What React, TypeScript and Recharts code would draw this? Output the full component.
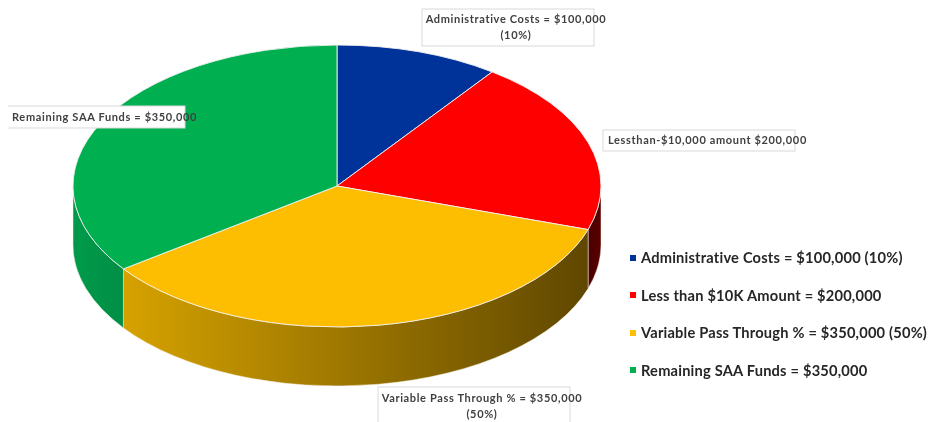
import React from 'react';
import { PieChart, Pie, Legend } from 'recharts';

const categories = ['Administrative Costs', 'Less than $10K Amount', 'Variable Pass Through %', 'Remaining SAA Funds'];
const amounts = [100000, 200000, 350000, 350000];
const colors = ['#003399', '#ff0000', '#fdbd00', '#00b050'];
const legendLabels = [
  'Administrative Costs = $100,000 (10%)',
  'Less than $10K Amount = $200,000',
  'Variable Pass Through % = $350,000 (50%)',
  'Remaining SAA Funds = $350,000',
];
const calloutLines = [
  ['Administrative Costs = $100,000', '(10%)'],
  ['Lessthan-$10,000 amount $200,000'],
  ['Variable Pass Through % = $350,000', '(50%)'],
  ['Remaining SAA Funds = $350,000'],
];
const data = categories.map((name, i) => ({ name, value: amounts[i], fill: colors[i] }));

const CX = 337;
const CY = 186;
const RX = 264;
const RY = 141;
const DEPTH = 59;
const FONT = 'Lato, "Open Sans", sans-serif';
const SOFT = 'blur(0.45px)';

const boxes = [
  { x: 422, y: 9, w: 172, h: 37, tx: 516, ty: 23, align: 'middle' },
  { x: 603, y: 130, w: 192, h: 21, tx: 608, ty: 144, align: 'start' },
  { x: 378, y: 387, w: 192, h: 40, tx: 482, ty: 402, align: 'middle' },
  { x: 7, y: 106, w: 178, h: 22, tx: 12, ty: 121, align: 'start' },
];

const sideStops = [
  ['#001f5c', '#001f5c'],
  ['#4a0000', '#5a0000'],
  ['#d6a200', '#5f4700'],
  ['#009a4a', '#008f45'],
];

const pt = (a: number) => {
  const r = (a * Math.PI) / 180;
  return [CX + RX * Math.sin(r), CY - RY * Math.cos(r)];
};

function Slice(props: any) {
  const { startAngle, endAngle, fill, index, name } = props;
  const i = index ?? categories.indexOf(name);
  const a0 = 90 - startAngle;
  const a1 = 90 - endAngle;
  const [x0, y0] = pt(a0);
  const [x1, y1] = pt(a1);
  const large = a1 - a0 > 180 ? 1 : 0;
  const top = `M${CX},${CY} L${x0},${y0} A${RX},${RY} 0 ${large} 1 ${x1},${y1} Z`;
  const s0 = Math.max(a0, 90);
  const s1 = Math.min(a1, 270);
  let side = null;
  if (s1 > s0) {
    const [p0x, p0y] = pt(s0);
    const [p1x, p1y] = pt(s1);
    const d = `M${p0x},${p0y} A${RX},${RY} 0 0 1 ${p1x},${p1y} L${p1x},${p1y + DEPTH} A${RX},${RY} 0 0 0 ${p0x},${p0y + DEPTH} Z`;
    side = (
      <>
        <defs>
          <linearGradient id={`side-${i}`} x1="0" y1="0" x2="1" y2="0">
            <stop offset="0" stopColor={sideStops[i][0]} />
            <stop offset="1" stopColor={sideStops[i][1]} />
          </linearGradient>
        </defs>
        <path d={d} fill={`url(#side-${i})`} stroke="#f3efe2" strokeWidth={0.5} />
      </>
    );
  }
  return (
    <g>
      {side}
      <path d={top} fill={fill} stroke="#f2f2f2" strokeWidth={0.9} />
    </g>
  );
}

function Callout(props: any) {
  const i = props.index;
  const b = boxes[i];
  return (
    <g>
      <rect x={b.x} y={b.y} width={b.w} height={b.h} fill="#ffffff" stroke="#d9d9d9" strokeWidth={1} />
      <text
        textAnchor={b.align as any}
        fontFamily={FONT}
        fontWeight={700}
        fontSize={11}
        letterSpacing={0.65}
        fill="#404040"
        style={{ filter: SOFT }}
      >
        {calloutLines[i].map((line, n) => (
          <tspan key={n} x={b.tx} y={b.ty + n * 16}>{line}</tspan>
        ))}
      </text>
    </g>
  );
}

function LegendList() {
  return (
    <div style={{ fontFamily: FONT, fontWeight: 700, fontSize: 14.65, letterSpacing: 0.2, color: '#262626', width: 306 }}>
      {legendLabels.map((label, i) => (
        <div key={label} style={{ display: 'flex', alignItems: 'center', height: 37.5, whiteSpace: 'nowrap' }}>
          <span style={{ width: 6, height: 6, background: colors[i], marginRight: 5, display: 'inline-block', flex: 'none', filter: SOFT }} />
          <span style={{ flex: 'none', filter: SOFT }}>{label}</span>
        </div>
      ))}
    </div>
  );
}

export default function App() {
  return (
    <div style={{ margin: '-8px 0 0 -8px', width: 936, height: 422 }}>
      <PieChart width={936} height={422} margin={{ top: 0, right: 0, bottom: 0, left: 0 }}>
        <Pie
          data={data}
          dataKey="value"
          nameKey="name"
          cx={CX}
          cy={CY}
          outerRadius={RX}
          startAngle={90}
          endAngle={-270}
          stroke="none"
          isAnimationActive={false}
          shape={Slice}
          label={Callout}
          labelLine={false}
        />
        <Legend
          content={<LegendList />}
          layout="vertical"
          wrapperStyle={{ position: 'absolute', left: 630, top: 239, width: 306, bottom: 'auto' }}
        />
      </PieChart>
    </div>
  );
}
